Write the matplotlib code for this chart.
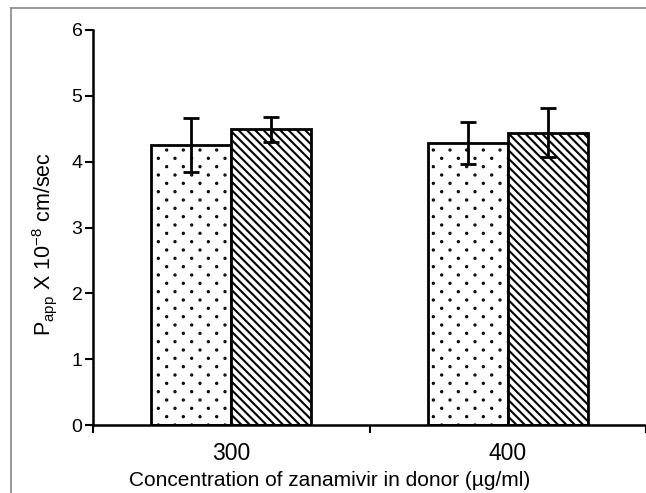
import matplotlib
matplotlib.use('Agg')
import matplotlib.pyplot as plt
import matplotlib.hatch as mhatch
from matplotlib.lines import Line2D
from matplotlib.path import Path
import numpy as np

plt.rcParams['font.family'] = ['Liberation Sans', 'DejaVu Sans']
plt.rcParams['hatch.linewidth'] = 1.5
plt.rcParams['mathtext.fontset'] = 'custom'
plt.rcParams['mathtext.rm'] = 'Liberation Sans'


# sparser, smaller dot pattern for '.' (rows twice as close as columns)
class SparseDots(mhatch.HatchPatternBase):
    def __init__(self, hatch, density):
        self.n = hatch.count('.') * density
        circ = Path.unit_circle()
        self.shape_vertices = circ.vertices
        self.shape_codes = circ.codes
        n = self.n
        if n == 0:
            self.num_shapes = 0
            self.num_vertices = 0
        else:
            self.num_shapes = (n + 1) * (n + 1) + n * n
            self.num_vertices = self.num_shapes * len(self.shape_vertices)

    def set_vertices_and_codes(self, vertices, codes):
        n = self.n
        step = 1.0 / n
        verts = self.shape_vertices * 0.006
        vparts, cparts = [], []
        for row in range(2 * n + 1):
            if row % 2 == 0:
                cols = np.linspace(0, 1, n + 1)
            else:
                cols = np.linspace(step / 2, 1 - step / 2, n)
            for c in cols:
                vparts.append(verts + [c, row * step / 2])
                cparts.append(self.shape_codes)
        np.concatenate(vparts, out=vertices)
        np.concatenate(cparts, out=codes)


mhatch._hatch_types = [SparseDots if t is mhatch.SmallFilledCircles else t
                       for t in mhatch._hatch_types]

categories = ['300', '400']
dotted_vals = [4.26, 4.29]
dotted_err = [0.41, 0.32]
hatched_vals = [4.49, 4.44]
hatched_err = [0.19, 0.37]

fig = plt.figure(figsize=(6.46, 4.93), dpi=100)
ax = fig.add_axes([93/646, 1-425/493, 1-93/646, (425-30)/493])

centers = np.arange(len(categories)) + 0.5
w = 0.29
ax.bar(centers - w/2, dotted_vals, w, color='white', edgecolor='black', lw=2,
       hatch='.', yerr=dotted_err, capsize=5.5,
       error_kw=dict(elinewidth=2, capthick=2, ecolor='black'))
ax.bar(centers + w/2, hatched_vals, w, color='white', edgecolor='black', lw=2,
       hatch='\\\\\\\\', yerr=hatched_err, capsize=5.5,
       error_kw=dict(elinewidth=2, capthick=2, ecolor='black'))

ax.set_xlim(0, 2)
ax.set_ylim(0, 6)
ax.set_yticks(range(7))
ax.set_xticks([0, 1, 2])
ax.set_xticklabels([])
ax.set_xticks(centers, minor=True)
ax.set_xticklabels(categories, minor=True)
ax.tick_params(axis='x', which='minor', length=0, pad=12, labelsize=16.5)
ax.tick_params(axis='x', which='major', length=5.5, width=1.5)
ax.tick_params(axis='y', length=5.5, width=1.5, labelsize=14, pad=2)
for s in ['top', 'right']:
    ax.spines[s].set_visible(False)
for s in ['left', 'bottom']:
    ax.spines[s].set_linewidth(1.8)

fig.text(330/646, 1-480/493, 'Concentration of zanamivir in donor (\u00b5g/ml)',
         ha='center', va='center', fontsize=15)
fig.text(45/646, 1-244/493,
         r'P$_{\mathregular{app}}$ X 10$^{\mathregular{-8}}$ cm/sec',
         ha='center', va='center', rotation=90, fontsize=15.5)

# grey frame around the picture
fig.add_artist(Line2D([11/646, 11/646], [0, 1-8/493], color='#888888', lw=1.2,
                      transform=fig.transFigure))
fig.add_artist(Line2D([11/646, 1], [1-8/493, 1-8/493], color='#888888', lw=1.2,
                      transform=fig.transFigure))

fig.savefig('out.png', dpi=100)
